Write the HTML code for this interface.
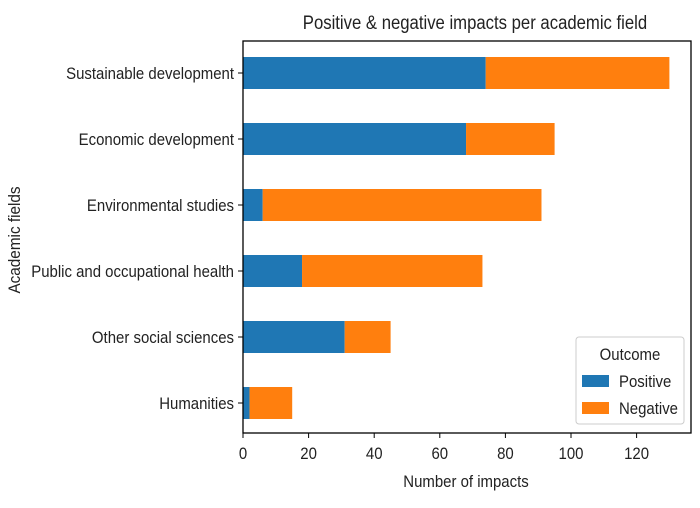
<!DOCTYPE html>
<html><head><meta charset="utf-8"><style>
html,body{margin:0;padding:0;background:#fff;}
svg text{font-family:"Liberation Sans",sans-serif;fill:#222;}
</style></head><body>
<svg id="chart" width="700" height="503" xmlns="http://www.w3.org/2000/svg">
<text class="sq" x="475" y="29" font-size="19" text-anchor="middle">Positive &amp; negative impacts per academic field</text>
<text transform="translate(20,240) rotate(-90) scale(0.9,1)" font-size="17" text-anchor="middle">Academic fields</text>
<text class="sq" x="466" y="487" font-size="17" text-anchor="middle">Number of impacts</text>
<g id="bars"></g>
<g id="axes"></g>
<rect x="243" y="41" width="448" height="392" fill="none" stroke="#000" stroke-width="1.3"/>
<g>
<rect x="576" y="337" width="108" height="87" rx="3" fill="#fff" stroke="#ccc"/>
<text class="sq" x="630" y="360" font-size="17" text-anchor="middle">Outcome</text>
<rect x="582" y="375" width="27" height="12" fill="#1f77b4"/>
<text class="sq" x="619" y="387" font-size="17">Positive</text>
<rect x="582" y="402" width="27" height="12" fill="#ff7f0e"/>
<text class="sq" x="619" y="414" font-size="17">Negative</text>
</g>
</svg>
<script>
const categories = ["Sustainable development","Economic development","Environmental studies","Public and occupational health","Other social sciences","Humanities"];
const positive = [74,68,6,18,31,2];
const negative = [56,27,85,55,14,13];
const xTicks = [0,20,40,60,80,100,120];
const NS="http://www.w3.org/2000/svg";
const x0=243, pxPerUnit=3.28, yTop=73, rowStep=66, barH=32;
const xs=v=>x0+v*pxPerUnit;
const ys=i=>yTop+i*rowStep;
const bars=document.getElementById('bars'), axes=document.getElementById('axes');
function mk(tag,attrs,parent){const e=document.createElementNS(NS,tag);for(const k in attrs)e.setAttribute(k,attrs[k]);parent.appendChild(e);return e;}
categories.forEach((c,i)=>{
  const cy=ys(i);
  const b1=mk('rect',{x:xs(0),y:cy-barH/2,width:xs(positive[i])-xs(0),height:barH,fill:'#1f77b4'},bars);
  
  
  const b2=mk('rect',{x:xs(positive[i]),y:cy-barH/2,width:xs(positive[i]+negative[i])-xs(positive[i]),height:barH,fill:'#ff7f0e'},bars);
  
  
  const t=mk('line',{x1:x0-5,x2:x0,y1:cy,y2:cy,stroke:'#000'},axes);
  
  
  const l=mk('text',{x:x0-9,y:cy+6,'font-size':17,'text-anchor':'end','class':'sq'},axes);
  l.textContent=c;
  
  
});
xTicks.forEach(v=>{
  const x=xs(v);
  const t=mk('line',{x1:x,x2:x,y1:433,y2:438,stroke:'#000'},axes);
  
  
  const l=mk('text',{x:x,y:459,'font-size':17,'text-anchor':'middle','class':'sq'},axes);
  l.textContent=v;
  
  
});
const k=0.88;
document.querySelectorAll('text.sq').forEach(t=>{
  const X=parseFloat(t.getAttribute('x'));
  t.setAttribute('transform','matrix('+k+',0,0,1,'+(X*(1-k))+',0)');
});
</script>
</body></html>
